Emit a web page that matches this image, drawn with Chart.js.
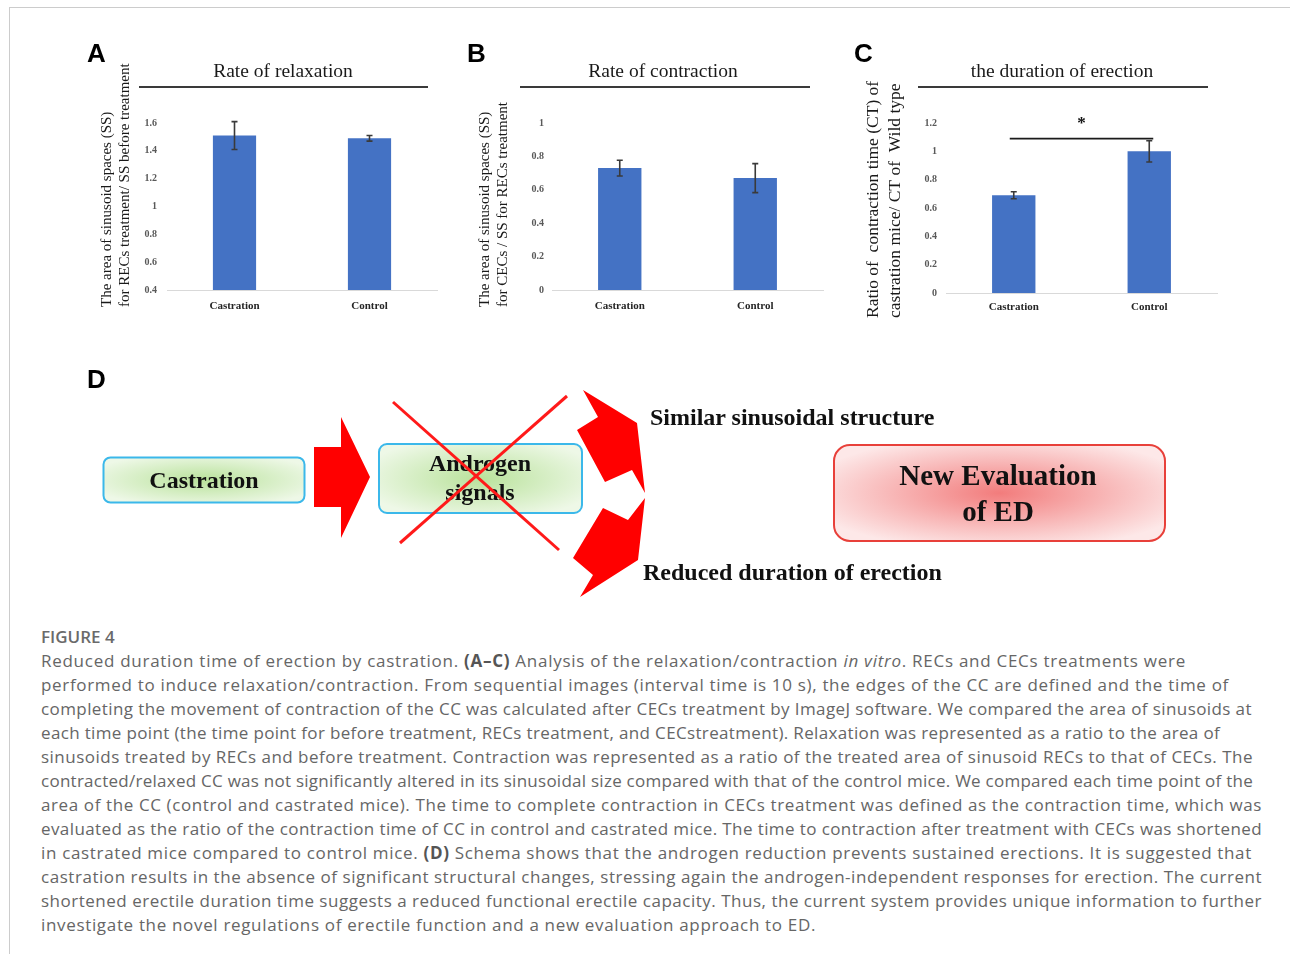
<!DOCTYPE html>
<html>
<head>
<meta charset="utf-8">
<script src="https://cdn.jsdelivr.net/npm/chart.js@4.4.1/dist/chart.umd.min.js"></script>
<style>
  html, body { margin: 0; padding: 0; background: #fff; }
  body { width: 1290px; height: 954px; position: relative; overflow: hidden; }
  .frame { position: absolute; left: 9px; top: 7px; width: 1300px; height: 960px;
           border-left: 1px solid #cccccc; border-top: 1px solid #cccccc; }
  canvas { position: absolute; }
  #schema { position: absolute; left: 0; top: 0; }
  .caption { position: absolute; left: 41px; top: 625px; font-family: "Open Sans", "Noto Sans", sans-serif;
             font-size: 17px; line-height: 24px; color: #666; }
  .caption .head { font-weight: 600; color: #6a6a6a; font-size: 17px; }
  .caption div { white-space: nowrap; }
  .caption b { color: #555; font-weight: 700; }
</style>
</head>
<body>
<div class="frame"></div>

<canvas id="chartA" width="370" height="300" style="left:80px;top:30px"></canvas>
<canvas id="chartB" width="380" height="300" style="left:460px;top:30px"></canvas>
<canvas id="chartC" width="395" height="300" style="left:845px;top:30px"></canvas>

<svg id="schema" width="1290" height="620" xmlns="http://www.w3.org/2000/svg">
  <defs>
    <radialGradient id="green" cx="50%" cy="50%" r="60%">
      <stop offset="0%" stop-color="#b9e29b"/>
      <stop offset="100%" stop-color="#eef8e7"/>
    </radialGradient>
    <radialGradient id="pink" cx="50%" cy="50%" r="60%">
      <stop offset="0%" stop-color="#f27c7c"/>
      <stop offset="55%" stop-color="#f8b8b8"/>
      <stop offset="100%" stop-color="#fde8e8"/>
    </radialGradient>
  </defs>
  <text x="87" y="388" font-family="'Liberation Sans', Arial, sans-serif" font-weight="bold" font-size="26">D</text>

  <rect x="103.5" y="457.5" width="201" height="45" rx="7" fill="url(#green)" stroke="#3bb8ea" stroke-width="2"/>
  <text x="204" y="488" text-anchor="middle" font-family="'Liberation Serif', serif" font-weight="bold" font-size="24" fill="#111">Castration</text>

  <polygon points="314,447 341,447 341,417 370,477 341,538 341,507 314,507" fill="#ff0000"/>

  <rect x="379" y="444" width="203" height="69" rx="8" fill="url(#green)" stroke="#3bb8ea" stroke-width="2"/>
  <text x="480" y="471" text-anchor="middle" font-family="'Liberation Serif', serif" font-weight="bold" font-size="24" fill="#111">Androgen</text>
  <text x="480" y="500" text-anchor="middle" font-family="'Liberation Serif', serif" font-weight="bold" font-size="24" fill="#111">signals</text>
  <line x1="393" y1="402" x2="559" y2="550" stroke="#ff1a1a" stroke-width="3"/>
  <line x1="567" y1="396" x2="400" y2="543" stroke="#ff1a1a" stroke-width="3"/>

  <polygon points="583,390 637,423 645,493 632,470 605,482 577,430 598,417" fill="#ff0000"/>
  <polygon points="645,498 638,560 580,597 593,575 573,558 603,508 628,520" fill="#ff0000"/>

  <text x="650" y="425" font-family="'Liberation Serif', serif" font-weight="bold" font-size="24" fill="#111">Similar sinusoidal structure</text>
  <text x="643" y="580" font-family="'Liberation Serif', serif" font-weight="bold" font-size="24" fill="#111">Reduced duration of erection</text>

  <rect x="834" y="445" width="331" height="96" rx="16" fill="url(#pink)" stroke="#e8403a" stroke-width="2"/>
  <text x="998" y="485" text-anchor="middle" font-family="'Liberation Serif', serif" font-weight="bold" font-size="29" fill="#111">New Evaluation</text>
  <text x="998" y="521" text-anchor="middle" font-family="'Liberation Serif', serif" font-weight="bold" font-size="29" fill="#111">of ED</text>
</svg>

<div class="caption" id="caption">
  <div class="head">FIGURE 4</div>
  <div data-end="1186">Reduced duration time of erection by castration. <b>(A–C)</b> Analysis of the relaxation/contraction <i>in vitro</i>. RECs and CECs treatments were</div>
  <div data-end="1229">performed to induce relaxation/contraction. From sequential images (interval time is 10 s), the edges of the CC are defined and the time of</div>
  <div data-end="1252">completing the movement of contraction of the CC was calculated after CECs treatment by ImageJ software. We compared the area of sinusoids at</div>
  <div data-end="1220">each time point (the time point for before treatment, RECs treatment, and CECstreatment). Relaxation was represented as a ratio to the area of</div>
  <div data-end="1253">sinusoids treated by RECs and before treatment. Contraction was represented as a ratio of the treated area of sinusoid RECs to that of CECs. The</div>
  <div data-end="1253">contracted/relaxed CC was not significantly altered in its sinusoidal size compared with that of the control mice. We compared each time point of the</div>
  <div data-end="1262">area of the CC (control and castrated mice). The time to complete contraction in CECs treatment was defined as the contraction time, which was</div>
  <div data-end="1262">evaluated as the ratio of the contraction time of CC in control and castrated mice. The time to contraction after treatment with CECs was shortened</div>
  <div data-end="1252">in castrated mice compared to control mice. <b>(D)</b> Schema shows that the androgen reduction prevents sustained erections. It is suggested that</div>
  <div data-end="1262">castration results in the absence of significant structural changes, stressing again the androgen-independent responses for erection. The current</div>
  <div data-end="1262">shortened erectile duration time suggests a reduced functional erectile capacity. Thus, the current system provides unique information to further</div>
  <div data-end="816">investigate the novel regulations of erectile function and a new evaluation approach to ED.</div>
</div>

<script>
// data
const categories = ['Castration', 'Control'];

const relaxValues = [1.51, 1.49];
const relaxErrors = [0.10, 0.02];
const relaxRange = [0.4, 1.6];

const contractValues = [0.73, 0.67];
const contractErrors = [0.047, 0.087];
const contractRange = [0, 1];

const durationValues = [0.69, 1.0];
const durationErrors = [0.025, 0.075];
const durationRange = [0, 1.2];
const durationSigLevel = 1.09;

const tickStep = 0.2;

const SERIF = '"Liberation Serif", "Times New Roman", serif';

// error bars from the data arrays
const errorBars = {
  id: 'errorBars',
  afterDatasetsDraw(chart, args, opts) {
    const { ctx } = chart;
    const y = chart.scales.y;
    const meta = chart.getDatasetMeta(0);
    const vals = chart.data.datasets[0].data;
    ctx.save();
    ctx.strokeStyle = '#3a3a3a';
    ctx.lineWidth = 1.6;
    vals.forEach((v, i) => {
      const px = meta.data[i].x;
      const top = y.getPixelForValue(v + opts.errors[i]);
      const bot = y.getPixelForValue(v - opts.errors[i]);
      ctx.beginPath();
      ctx.moveTo(px, top); ctx.lineTo(px, bot);
      ctx.moveTo(px - 3, top); ctx.lineTo(px + 3, top);
      ctx.moveTo(px - 3, bot); ctx.lineTo(px + 3, bot);
      ctx.stroke();
    });
    ctx.restore();
  }
};

// significance bracket for panel C
const sigBracket = {
  id: 'sigBracket',
  afterDatasetsDraw(chart, args, opts) {
    if (!opts.level) return;
    const { ctx } = chart;
    const meta = chart.getDatasetMeta(0);
    const py = chart.scales.y.getPixelForValue(opts.level);
    const x0 = meta.data[0].x - 4, x1 = meta.data[1].x + 4;
    ctx.save();
    ctx.strokeStyle = '#1a1a1a';
    ctx.lineWidth = 1.6;
    ctx.beginPath(); ctx.moveTo(x0, py); ctx.lineTo(x1, py); ctx.stroke();
    ctx.fillStyle = '#111';
    ctx.font = 'bold 17px ' + SERIF;
    ctx.textAlign = 'center';
    ctx.textBaseline = 'alphabetic';
    ctx.fillText('*', (x0 + x1) / 2, py - 11);
    ctx.restore();
  }
};

// panel letter, title with rule, two-line rotated axis title (page coords)
const panelDecor = {
  id: 'panelDecor',
  afterDraw(chart, args, o) {
    const ctx = chart.ctx;
    const ox = chart.canvas.offsetLeft, oy = chart.canvas.offsetTop;
    ctx.save();
    ctx.translate(-ox, -oy);
    ctx.fillStyle = '#000';
    ctx.font = 'bold 26px "Liberation Sans", Arial, sans-serif';
    ctx.textAlign = 'left';
    ctx.textBaseline = 'alphabetic';
    ctx.fillText(o.letter, o.letterX, 62);

    ctx.fillStyle = '#1a1a1a';
    ctx.font = '19.5px ' + SERIF;
    ctx.textAlign = 'center';
    ctx.fillText(o.title, o.titleX, 77);

    ctx.strokeStyle = '#3a3a3a';
    ctx.lineWidth = 2;
    ctx.beginPath(); ctx.moveTo(o.ruleFrom, 87); ctx.lineTo(o.ruleTo, 87); ctx.stroke();

    ctx.fillStyle = '#1a1a1a';
    ctx.font = o.axisFontSize + 'px ' + SERIF;
    ctx.textAlign = 'left';
    ctx.textBaseline = 'middle';
    o.axisTitle.forEach((t, i) => {
      ctx.save();
      ctx.translate(o.axisX[i], o.axisStart);
      ctx.rotate(-Math.PI / 2);
      ctx.fillText(t, 0, 0);
      ctx.restore();
    });
    ctx.restore();
  }
};

function makePanel(id, values, errors, range, p) {
  return new Chart(document.getElementById(id), {
    type: 'bar',
    data: {
      labels: categories,
      datasets: [{
        data: values,
        backgroundColor: '#4472C4',
        borderWidth: 0,
        barPercentage: 0.32,
        categoryPercentage: 1
      }]
    },
    options: {
      responsive: false,
      animation: false,
      layout: { padding: p.padding },
      plugins: {
        legend: { display: false },
        tooltip: { enabled: false },
        errorBars: { errors: errors },
        sigBracket: { level: p.sigLevel || 0 },
        panelDecor: p.decor
      },
      scales: {
        x: {
          grid: { display: false, drawTicks: false },
          border: { display: true, color: '#d9d9d9', width: 1 },
          ticks: { color: '#262626', padding: p.xPad, font: { family: SERIF, size: 11, weight: 'bold' } },
          afterFit(s) { s.height = 30; }
        },
        y: {
          min: range[0],
          max: range[1],
          grid: { display: false, drawTicks: false },
          border: { display: false },
          ticks: {
            stepSize: tickStep, color: '#595959', padding: p.yPad,
            font: { family: SERIF, size: 10, weight: 'bold' },
            callback: v => String(+v.toFixed(1))
          },
          afterFit(s) { s.width = p.yWidth; }
        }
      }
    },
    plugins: [errorBars, sigBracket, panelDecor]
  });
}

makePanel('chartA', relaxValues, relaxErrors, relaxRange, {
  padding: { left: 0, top: 93, right: 13, bottom: 10 },
  yWidth: 87, yPad: 10, xPad: 10,
  decor: {
    letter: 'A', letterX: 87, title: 'Rate of relaxation', titleX: 283, ruleFrom: 139, ruleTo: 428,
    axisFontSize: 15, axisX: [107, 125], axisStart: 307,
    axisTitle: ['The area of sinusoid spaces (SS)', 'for RECs treatment/ SS before treatment']
  }
});

makePanel('chartB', contractValues, contractErrors, contractRange, {
  padding: { left: 0, top: 93, right: 17, bottom: 10 },
  yWidth: 92, yPad: 8, xPad: 10,
  decor: {
    letter: 'B', letterX: 467, title: 'Rate of contraction', titleX: 663, ruleFrom: 520, ruleTo: 810,
    axisFontSize: 15, axisX: [485, 503], axisStart: 307,
    axisTitle: ['The area of sinusoid spaces (SS)', 'for CECs / SS for RECs treatment']
  }
});

makePanel('chartC', durationValues, durationErrors, durationRange, {
  padding: { left: 0, top: 93, right: 23, bottom: 7 },
  yWidth: 101, yPad: 9, xPad: 8,
  sigLevel: durationSigLevel,
  decor: {
    letter: 'C', letterX: 854, title: 'the duration of erection', titleX: 1062, ruleFrom: 918, ruleTo: 1208,
    axisFontSize: 17.5, axisX: [873, 895], axisStart: 318,
    axisTitle: ['Ratio of  contraction time (CT) of', 'castration mice/ CT of  Wild type']
  }
});

// stretch caption lines to the widths they have in the figure
function fitCaption() {
  document.querySelectorAll('#caption div[data-end]').forEach(d => {
    d.style.letterSpacing = '0px';
    const r = document.createRange();
    r.selectNodeContents(d);
    const w = r.getBoundingClientRect().width;
    const target = parseFloat(d.dataset.end) - 41;
    const n = d.textContent.length;
    d.style.letterSpacing = ((target - w) / n).toFixed(3) + 'px';
  });
}
fitCaption();
if (document.fonts) document.fonts.ready.then(fitCaption);
</script>
</body>
</html>
